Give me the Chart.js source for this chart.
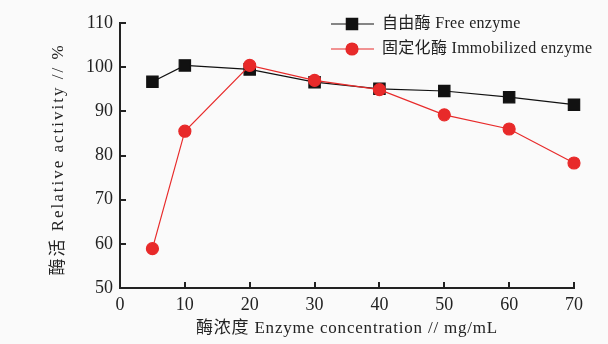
<!DOCTYPE html>
<html>
<head>
<meta charset="utf-8">
<script src="https://cdn.jsdelivr.net/npm/chart.js@4.4.1/dist/chart.umd.min.js"></script>
<style>
  html, body { margin: 0; padding: 0; background: #fafafa; }
  canvas { display: block; }
</style>
</head>
<body>
<canvas id="chart" width="608" height="344"></canvas>
<script>
// === Données ===
const concentrations = [5, 10, 20, 30, 40, 50, 60, 70];
const freeEnzyme = [96.7, 100.4, 99.5, 96.6, 95.1, 94.6, 93.2, 91.5];
const immobilizedEnzyme = [58.9, 85.5, 100.4, 97.0, 94.9, 89.2, 86.0, 78.3];
const xTickValues = [0, 10, 20, 30, 40, 50, 60, 70];
const yTickValues = [50, 60, 70, 80, 90, 100, 110];
const seriesLabels = ["自由酶 Free enzyme", "固定化酶 Immobilized enzyme"];
const xTitle = "酶浓度 Enzyme concentration // mg/mL";
const yTitle = "酶活 Relative activity // %";

const FONT = "'Liberation Serif', 'Noto Sans CJK SC', serif";
const INK = "#222";
const RED = "#e82a2a";

const toPoints = (xs, ys) => xs.map((x, i) => ({ x: x, y: ys[i] }));

// fond gris clair
const background = {
  id: "background",
  beforeDraw(chart) {
    const ctx = chart.ctx;
    ctx.save();
    ctx.fillStyle = "#fafafa";
    ctx.fillRect(0, 0, chart.width, chart.height);
    ctx.restore();
  }
};

// graduations vers l'intérieur + titres des axes (espacement des lettres)
const axisDecor = {
  id: "axisDecor",
  afterDraw(chart) {
    const ctx = chart.ctx;
    const xs = chart.scales.x, ys = chart.scales.y;
    ctx.save();
    ctx.strokeStyle = INK;
    ctx.lineWidth = 2;
    ctx.beginPath();
    xTickValues.forEach(v => {
      const px = Math.round(xs.getPixelForValue(v));
      ctx.moveTo(px, ys.bottom);
      ctx.lineTo(px, ys.bottom - 6);
    });
    yTickValues.forEach(v => {
      const py = Math.round(ys.getPixelForValue(v));
      ctx.moveTo(xs.left, py);
      ctx.lineTo(xs.left + 6, py);
    });
    ctx.stroke();

    ctx.fillStyle = INK;
    ctx.font = "17px " + FONT;
    ctx.textAlign = "center";
    ctx.textBaseline = "middle";
    ctx.letterSpacing = "0.8px";
    ctx.fillText(xTitle, (xs.left + xs.right) / 2, 329);

    ctx.translate(59, (ys.top + ys.bottom) / 2 + 4);
    ctx.rotate(-Math.PI / 2);
    ctx.letterSpacing = "2px";
    ctx.fillText(yTitle, 0, 0);
    ctx.restore();
  }
};

// légende en haut à droite
const cornerLegend = {
  id: "cornerLegend",
  afterDraw(chart) {
    const ctx = chart.ctx;
    const rows = [24, 49];
    ctx.save();
    chart.data.datasets.forEach((ds, i) => {
      const y = rows[i];
      ctx.strokeStyle = ds.borderColor;
      ctx.lineWidth = 1.2;
      ctx.beginPath();
      ctx.moveTo(331, y);
      ctx.lineTo(374, y);
      ctx.stroke();
      Chart.helpers.drawPoint(ctx, {
        pointStyle: ds.pointStyle,
        radius: ds.pointRadius,
        borderWidth: 1
      }, 352, y);
      ctx.fillStyle = ds.pointBackgroundColor;
      ctx.fill();
      ctx.fillStyle = INK;
      ctx.font = "16px " + FONT;
      ctx.letterSpacing = "0.3px";
      ctx.textBaseline = "middle";
      ctx.textAlign = "left";
      ctx.fillText(ds.label, 382, y);
    });
    ctx.restore();
  }
};

new Chart(document.getElementById("chart"), {
  type: "line",
  data: {
    datasets: [
      {
        label: seriesLabels[0],
        data: toPoints(concentrations, freeEnzyme),
        borderColor: "#111",
        backgroundColor: "#111",
        pointBackgroundColor: "#111",
        pointBorderColor: "#111",
        pointStyle: "rect",
        pointRadius: 8,
        borderWidth: 1.2,
        clip: false,
        order: 1
      },
      {
        label: seriesLabels[1],
        data: toPoints(concentrations, immobilizedEnzyme),
        borderColor: RED,
        backgroundColor: RED,
        pointBackgroundColor: RED,
        pointBorderColor: RED,
        pointStyle: "circle",
        pointRadius: 6,
        borderWidth: 1.2,
        clip: false,
        order: 0
      }
    ]
  },
  options: {
    responsive: false,
    animation: false,
    devicePixelRatio: 1,
    layout: { padding: { top: 23, right: 34, bottom: 0, left: 0 } },
    plugins: {
      legend: { display: false },
      tooltip: { enabled: false }
    },
    scales: {
      x: {
        type: "linear",
        min: 0,
        max: 70,
        afterFit(scale) { scale.height = 56; },
        afterBuildTicks(scale) { scale.ticks = xTickValues.map(v => ({ value: v })); },
        grid: { display: false, drawTicks: false },
        border: { display: true, color: INK, width: 2 },
        ticks: { color: INK, padding: 6, font: { family: FONT, size: 18 } }
      },
      y: {
        min: 50,
        max: 110,
        afterFit(scale) { scale.width = 120; },
        afterBuildTicks(scale) { scale.ticks = yTickValues.map(v => ({ value: v })); },
        grid: { display: false, drawTicks: false },
        border: { display: true, color: INK, width: 2 },
        ticks: { color: INK, padding: 7, font: { family: FONT, size: 18 } }
      }
    }
  },
  plugins: [background, axisDecor, cornerLegend]
});
</script>
</body>
</html>
